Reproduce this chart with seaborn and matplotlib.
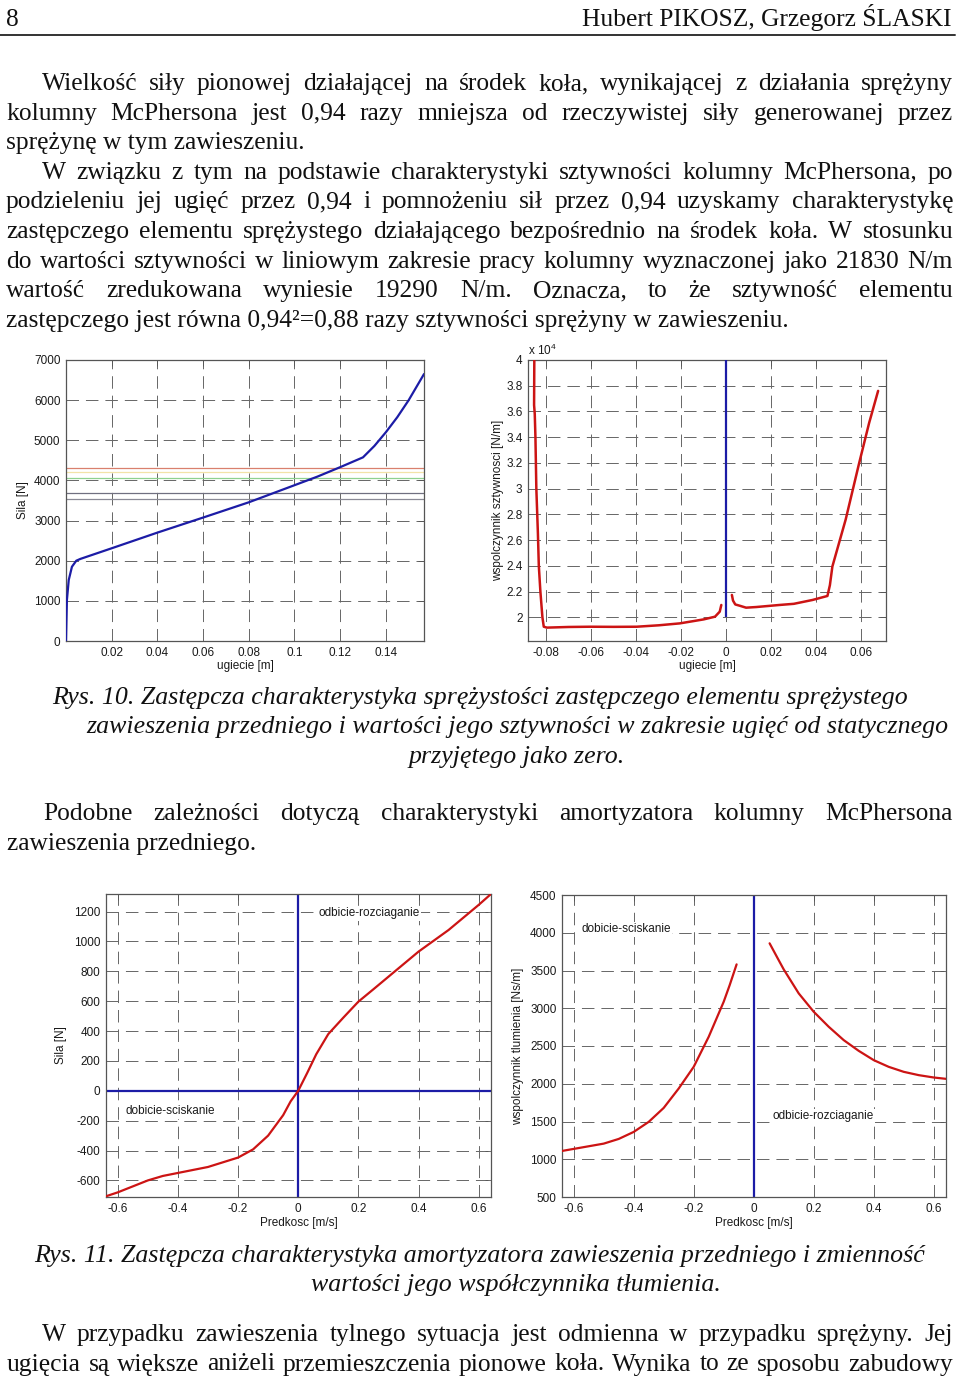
import numpy as np
import pandas as pd
import seaborn as sns
import matplotlib.pyplot as plt
from matplotlib.lines import Line2D
from matplotlib.ticker import FuncFormatter

# --- chart data ---
# Rys. 10 left: spring force vs deflection
defl = [0, 0.0004, 0.0012, 0.0026, 0.0045, 0.0063, 0.02, 0.04, 0.06, 0.08, 0.0995,
        0.11, 0.12, 0.130, 0.135, 0.140, 0.145, 0.150, 0.1567]
spring_force = [0, 1020, 1520, 1850, 2000, 2045, 2310, 2700, 3075, 3455, 3870,
                4094, 4330, 4575, 4860, 5200, 5575, 6000, 6650]
ref_levels = [4310, 4200, 4070, 3680, 3530]
ref_colors = ['#d9806e', '#f3e3a8', '#8fd18f', '#707080', '#8a8a96']

# Rys. 10 right: stiffness vs deflection (two branches)
stiff_left_x = [-0.0852, -0.0853, -0.0850, -0.0847, -0.0843, -0.0836, -0.0832, -0.0825,
                -0.0816, -0.0810, -0.0796, -0.0700, -0.0604, -0.0500, -0.0398, -0.0300,
                -0.0206, -0.0100, -0.0050, -0.0029, -0.0022]
stiff_left_y = [40000, 36500, 35800, 34000, 30000, 26500, 24000, 22000,
                20000, 19270, 19200, 19250, 19270, 19260, 19270, 19380,
                19530, 19840, 20050, 20440, 20960]
stiff_right_x = [0.0025, 0.0030, 0.0040, 0.0060, 0.0088, 0.0133, 0.0236, 0.0300, 0.0383,
                 0.0449, 0.0460, 0.0471, 0.0530, 0.0590, 0.0634, 0.0674]
stiff_right_y = [21740, 21300, 21000, 20900, 20750, 20800, 20960, 21050, 21350,
                 21660, 22500, 23950, 27600, 32000, 35100, 37600]

# Rys. 11 left: damper force vs velocity
vel = [-0.639, -0.6, -0.5, -0.45, -0.4, -0.3, -0.2, -0.15, -0.1, -0.05, -0.025, 0,
       0.03, 0.06, 0.1, 0.15, 0.2, 0.25, 0.3, 0.4, 0.5, 0.6, 0.641]
damp_force = [-706, -680, -600, -570, -550, -510, -447, -392, -300, -163, -70, 0,
              120, 245, 380, 490, 597, 680, 764, 932, 1077, 1245, 1318]

# Rys. 11 right: damping coefficient vs velocity (two branches)
coef_left_v = [-0.639, -0.6, -0.5, -0.45, -0.4, -0.35, -0.3, -0.25, -0.2, -0.15, -0.1, -0.08, -0.057]
coef_left_c = [1110, 1137, 1207, 1269, 1362, 1495, 1680, 1937, 2224, 2622, 3086, 3307, 3581]
coef_right_v = [0.053, 0.08, 0.1, 0.15, 0.2, 0.25, 0.3, 0.35, 0.4, 0.45, 0.5, 0.55, 0.6, 0.641]
coef_right_c = [3860, 3661, 3515, 3197, 2954, 2755, 2578, 2436, 2313, 2224, 2158, 2114, 2083, 2065]

# --- page text ---
header_left = "8"
header_right = "Hubert PIKOSZ, Grzegorz ŚLASKI"
para1 = [
    ("Wielkość siły pionowej działającej na środek koła, wynikającej z działania sprężyny", 42, True),
    ("kolumny McPhersona jest 0,94 razy mniejsza od rzeczywistej siły generowanej przez", 6, True),
    ("sprężynę w tym zawieszeniu.", 6, False),
    ("W związku z tym na podstawie charakterystyki sztywności kolumny McPhersona, po", 42, True),
    ("podzieleniu jej ugięć przez 0,94 i pomnożeniu sił przez 0,94 uzyskamy charakterystykę", 6, True),
    ("zastępczego elementu sprężystego działającego bezpośrednio na środek koła. W stosunku", 6, True),
    ("do wartości sztywności w liniowym zakresie pracy kolumny wyznaczonej jako 21830 N/m", 6, True),
    ("wartość zredukowana wyniesie 19290 N/m. Oznacza, to że sztywność elementu", 6, True),
    ("zastępczego jest równa 0,94²=0,88 razy sztywności sprężyny w zawieszeniu.", 6, False),
]
cap10 = ["Rys. 10. Zastępcza charakterystyka sprężystości zastępczego elementu sprężystego",
         "zawieszenia przedniego i wartości jego sztywności w zakresie ugięć od statycznego",
         "przyjętego jako zero."]
cap11 = ["Rys. 11. Zastępcza charakterystyka amortyzatora zawieszenia przedniego i zmienność",
         "wartości jego współczynnika tłumienia."]

W, H = 960, 1386
BLUE = '#1c1ca6'
RED = '#cc1414'
SERIF = 'Liberation Serif'

sns.set_style("white")
plt.rcParams['font.family'] = ['Liberation Sans', 'DejaVu Sans']
plt.rcParams['axes.unicode_minus'] = False
plt.rcParams['lines.scale_dashes'] = False
plt.rcParams['mathtext.default'] = 'regular'

fig = plt.figure(figsize=(9.6, 13.86), dpi=100)
fig.patch.set_facecolor('white')
rend = fig.canvas.get_renderer()


def fy(y):
    return 1 - y / H


def text_width(s, fs, style='normal'):
    t = fig.text(0, 0, s, family=SERIF, style=style, fontsize=fs)
    w = t.get_window_extent(rend).width
    t.remove()
    return w


def put_line(s, x0, y, fs, x1=None, style='normal', ha='left'):
    if x1 is None:
        fig.text(x0 / W, fy(y), s, family=SERIF, style=style, fontsize=fs,
                 va='baseline', ha=ha, color='#111')
        return
    words = s.split(' ')
    while True:
        widths = [text_width(w, fs, style) for w in words]
        gap = (x1 - x0 - sum(widths)) / (len(words) - 1)
        if gap >= 0.2 * fs * 100 / 72:
            break
        fs *= 0.98
    x = x0
    for w, wd in zip(words, widths):
        fig.text(x / W, fy(y), w, family=SERIF, style=style, fontsize=fs,
                 va='baseline', ha='left', color='#111')
        x += wd + gap


fs_body = 10 * 299 / text_width("sprężynę w tym zawieszeniu.", 10)
fs_cap = 10 * 853 / text_width(cap10[0], 10, 'italic')

# header
put_line(header_left, 6, 26, fs_body)
put_line(header_right, 952, 26, fs_body, ha='right')
fig.add_artist(Line2D([0, 955 / W], [fy(34.5)] * 2, color='#333', lw=1.4))

for i, (s, x0, just) in enumerate(para1):
    put_line(s, x0, 90 + i * 29.6, fs_body, 953 if just else None)

put_line(cap10[0], 480.5, 704, fs_cap, style='italic', ha='center')
put_line(cap10[1], 517.5, 733.5, fs_cap, style='italic', ha='center')
put_line(cap10[2], 516.5, 763, fs_cap, style='italic', ha='center')

put_line("Podobne zależności dotyczą charakterystyki amortyzatora kolumny McPhersona", 43, 820, fs_body, 953)
put_line("zawieszenia przedniego.", 7, 849.5, fs_body)

put_line(cap11[0], 479.5, 1262, fs_cap, style='italic', ha='center')
put_line(cap11[1], 515.5, 1291.5, fs_cap, style='italic', ha='center')

put_line("W przypadku zawieszenia tylnego sytuacja jest odmienna w przypadku sprężyny. Jej", 42, 1341, fs_body, 953)
put_line("ugięcia są większe aniżeli przemieszczenia pionowe koła. Wynika to ze sposobu zabudowy", 7, 1370.5, fs_body, 953)


# --- axes ---
def make_axes(l, t, r, b):
    return fig.add_axes([l / W, 1 - b / H, (r - l) / W, (b - t) / H])


def matlab_style(ax, xlim, ylim, xt, yt, xlab, ylab, xlab_y, ylab_x, yfmt=None):
    ax.set_xlim(xlim)
    ax.set_ylim(ylim)
    ax.set_xticks(xt)
    ax.set_yticks(yt)
    ax.xaxis.set_major_formatter(FuncFormatter(lambda v, p: f"{v:g}"))
    ax.yaxis.set_major_formatter(FuncFormatter(yfmt or (lambda v, p: f"{v:g}")))
    ax.set_axisbelow(True)
    ax.grid(True, color='#666666', lw=0.7, ls=(0, (9, 5)))
    for sp in ax.spines.values():
        sp.set_color('#555555')
        sp.set_linewidth(0.9)
    ax.tick_params(direction='in', length=4, width=0.6, color='#555555', labelcolor='#1a1a1a',
                   top=True, right=True, labelsize=8.5, pad=4)
    ax.set_xlabel(xlab, fontsize=8.5, color='#1a1a1a')
    ax.set_ylabel(ylab, fontsize=8.5, color='#1a1a1a')
    ax.xaxis.set_label_coords(0.5, xlab_y)
    ax.yaxis.set_label_coords(ylab_x, 0.5)


ax1 = make_axes(66, 360, 424, 641)
ax2 = make_axes(528, 360, 886, 641)
ax3 = make_axes(106, 894, 491, 1197)
ax4 = make_axes(562, 895, 946, 1197)

# Rys. 10 left
for lev, col in zip(ref_levels, ref_colors):
    ax1.axhline(lev, color=col, lw=0.9, zorder=2)
sns.lineplot(x=defl, y=spring_force, ax=ax1, color=BLUE, lw=1.6, sort=False, estimator=None, zorder=3)
matlab_style(ax1, (0, 0.1567), (0, 7000), [0.02, 0.04, 0.06, 0.08, 0.1, 0.12, 0.14],
             list(range(0, 7001, 1000)), "ugiecie [m]", "Sila [N]", -0.068, -0.103)

# Rys. 10 right
ax2.vlines(0, 20000, 40000, color=BLUE, lw=1.6, zorder=3)
sns.lineplot(x=stiff_left_x, y=stiff_left_y, ax=ax2, color=RED, lw=1.8, sort=False, estimator=None, zorder=3)
sns.lineplot(x=stiff_right_x, y=stiff_right_y, ax=ax2, color=RED, lw=1.8, sort=False, estimator=None, zorder=3)
matlab_style(ax2, (-0.088, 0.0709), (18160, 40000), [-0.08, -0.06, -0.04, -0.02, 0, 0.02, 0.04, 0.06],
             list(range(20000, 40001, 2000)), "ugiecie [m]", "wspolczynnik sztywnosci [N/m]",
             -0.068, -0.067, yfmt=lambda v, p: f"{v / 1e4:g}")
ax2.text(0.0, 1.008, r'x 10$^{4}$', transform=ax2.transAxes, fontsize=8.5, color='#1a1a1a',
         va='bottom', ha='left')

# Rys. 11 left
ax3.axhline(0, color=BLUE, lw=1.6, zorder=2)
ax3.axvline(0, color=BLUE, lw=1.6, zorder=2)
sns.lineplot(x=vel, y=damp_force, ax=ax3, color=RED, lw=1.6, sort=False, estimator=None, zorder=3)
matlab_style(ax3, (-0.639, 0.641), (-711, 1318), [-0.6, -0.4, -0.2, 0, 0.2, 0.4, 0.6],
             list(range(-600, 1201, 200)), "Predkosc [m/s]", "Sila [N]", -0.066, -0.101)
box = dict(facecolor='white', edgecolor='none', pad=1)
ax3.text(0.066, 1189, "odbicie-rozciaganie", fontsize=8.5, color='#1a1a1a', va='center', ha='left', bbox=box)
ax3.text(-0.574, -136, "dobicie-sciskanie", fontsize=8.5, color='#1a1a1a', va='center', ha='left', bbox=box)

# Rys. 11 right
ax4.axvline(0, color=BLUE, lw=1.6, zorder=2)
sns.lineplot(x=coef_left_v, y=coef_left_c, ax=ax4, color=RED, lw=1.6, sort=False, estimator=None, zorder=3)
sns.lineplot(x=coef_right_v, y=coef_right_c, ax=ax4, color=RED, lw=1.6, sort=False, estimator=None, zorder=3)
matlab_style(ax4, (-0.639, 0.641), (500, 4500), [-0.6, -0.4, -0.2, 0, 0.2, 0.4, 0.6],
             list(range(500, 4501, 500)), "Predkosc [m/s]", "wspolczynnik tlumienia [Ns/m]", -0.066, -0.099)
ax4.text(-0.575, 4046, "dobicie-sciskanie", fontsize=8.5, color='#1a1a1a', va='center', ha='left', bbox=box)
ax4.text(0.062, 1570, "odbicie-rozciaganie", fontsize=8.5, color='#1a1a1a', va='center', ha='left', bbox=box)

fig.savefig("out.png", dpi=100, facecolor='white')
